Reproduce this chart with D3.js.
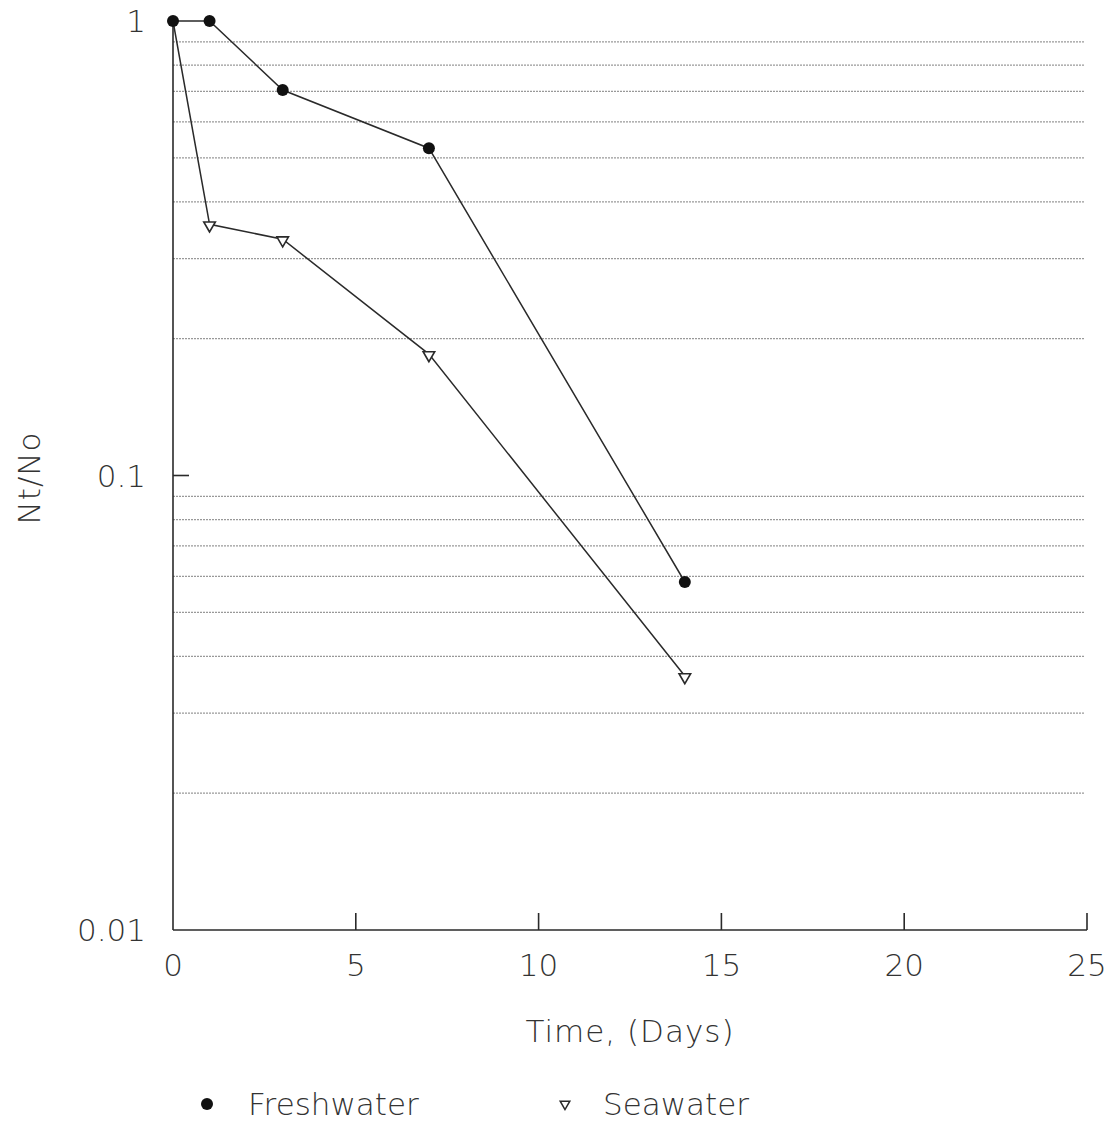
<!DOCTYPE html>
<html lang="en">
<head>
<meta charset="UTF-8">
<title>Nt/No vs Time</title>
<script src="https://d3js.org/d3.v7.min.js"></script>
<style>
  body { margin: 0; background: #fff; }
  svg text { font-family: "DejaVu Sans", sans-serif; font-weight: 200; fill: #333; }
</style>
</head>
<body>
<div id="chart"></div>
<script>
// ---- data ----
const days = [0, 1, 3, 7, 14];
const freshwater = [1, 1, 0.705, 0.525, 0.0583];
const seawater = [1, 0.357, 0.331, 0.185, 0.0362];
const xTicks = [0, 5, 10, 15, 20, 25];
const yTicks = [1, 0.1, 0.01];
const yTickLabels = ["1", "0.1", "0.01"];
const gridValues = [0.9, 0.8, 0.7, 0.6, 0.5, 0.4, 0.3, 0.2,
                    0.09, 0.08, 0.07, 0.06, 0.05, 0.04, 0.03, 0.02];

const W = 1116, H = 1124;
const x = d3.scaleLinear().domain([0, 25]).range([173, 1087]);
const y = d3.scaleLog().domain([0.01, 1]).range([930, 21]);

const svg = d3.select("#chart").append("svg")
  .attr("width", W).attr("height", H);

// gridlines
svg.append("g").selectAll("line")
  .data(gridValues)
  .join("line")
    .attr("x1", x(0)).attr("x2", 1085)
    .attr("y1", d => y(d)).attr("y2", d => y(d))
    .attr("stroke", "#999")
    .attr("stroke-width", 1.3)
    .attr("stroke-dasharray", "2,1");

// axes lines
const ink = "#2a2a2a";
svg.append("line")
  .attr("x1", x(0)).attr("x2", x(0)).attr("y1", y(1)).attr("y2", y(0.01))
  .attr("stroke", ink).attr("stroke-width", 1.6);
svg.append("line")
  .attr("x1", x(0)).attr("x2", x(25)).attr("y1", y(0.01)).attr("y2", y(0.01))
  .attr("stroke", ink).attr("stroke-width", 1.6);

// x ticks
svg.append("g").selectAll("line")
  .data(xTicks.filter(d => d > 0))
  .join("line")
    .attr("x1", d => x(d)).attr("x2", d => x(d))
    .attr("y1", y(0.01)).attr("y2", y(0.01) - 17)
    .attr("stroke", ink).attr("stroke-width", 1.6);
svg.append("g").selectAll("text")
  .data(xTicks)
  .join("text")
    .attr("x", d => x(d))
    .attr("y", y(0.01) + 46)
    .attr("text-anchor", "middle")
    .style("font-size", "31px")
    .text(d => d);

// y ticks
svg.append("g").selectAll("line")
  .data([0.1])
  .join("line")
    .attr("x1", x(0)).attr("x2", x(0) + 16)
    .attr("y1", d => y(d)).attr("y2", d => y(d))
    .attr("stroke", ink).attr("stroke-width", 1.6);
svg.append("g").selectAll("text")
  .data(yTicks)
  .join("text")
    .attr("x", 146)
    .attr("y", d => y(d) + 11)
    .attr("text-anchor", "end")
    .style("font-size", "31px")
    .text((d, i) => yTickLabels[i]);

// axis titles
svg.append("text")
  .attr("x", (x(0) + x(25)) / 2)
  .attr("y", 1042)
  .attr("text-anchor", "middle")
  .style("font-size", "31px")
  .style("letter-spacing", "1px")
  .text("Time, (Days)");
svg.append("text")
  .attr("transform", `translate(40,478) rotate(-90)`)
  .attr("text-anchor", "middle")
  .style("font-size", "31px")
  .style("letter-spacing", "1px")
  .text("Nt/No");

// series
const line = d3.line().x((d, i) => x(days[i])).y(d => y(d));
svg.append("path").datum(freshwater)
  .attr("d", line).attr("fill", "none").attr("stroke", ink).attr("stroke-width", 1.5);
svg.append("path").datum(seawater)
  .attr("d", line).attr("fill", "none").attr("stroke", ink).attr("stroke-width", 1.5);

const tri = d3.symbol().type(d3.symbolTriangle).size(58);
const triSmall = d3.symbol().type(d3.symbolTriangle).size(40);

svg.append("g").selectAll("circle")
  .data(freshwater)
  .join("circle")
    .attr("cx", (d, i) => x(days[i]))
    .attr("cy", d => y(d))
    .attr("r", 6)
    .attr("fill", "#111");

svg.append("g").selectAll("path")
  .data(seawater.slice(1))
  .join("path")
    .attr("d", tri)
    .attr("transform", (d, i) => `translate(${x(days[i + 1])},${y(d) + 1}) rotate(180)`)
    .attr("fill", "#fff")
    .attr("stroke", ink)
    .attr("stroke-width", 1.6);

// legend
const legend = svg.append("g");
legend.append("circle").attr("cx", 207).attr("cy", 1104).attr("r", 6).attr("fill", "#111");
legend.append("text").attr("x", 248).attr("y", 1115).style("font-size", "31px").text("Freshwater");
legend.append("path").attr("d", triSmall)
  .attr("transform", "translate(565,1104) rotate(180)")
  .attr("fill", "#fff").attr("stroke", ink).attr("stroke-width", 1.5);
legend.append("text").attr("x", 603).attr("y", 1115).style("font-size", "31px").text("Seawater");
</script>
</body>
</html>
